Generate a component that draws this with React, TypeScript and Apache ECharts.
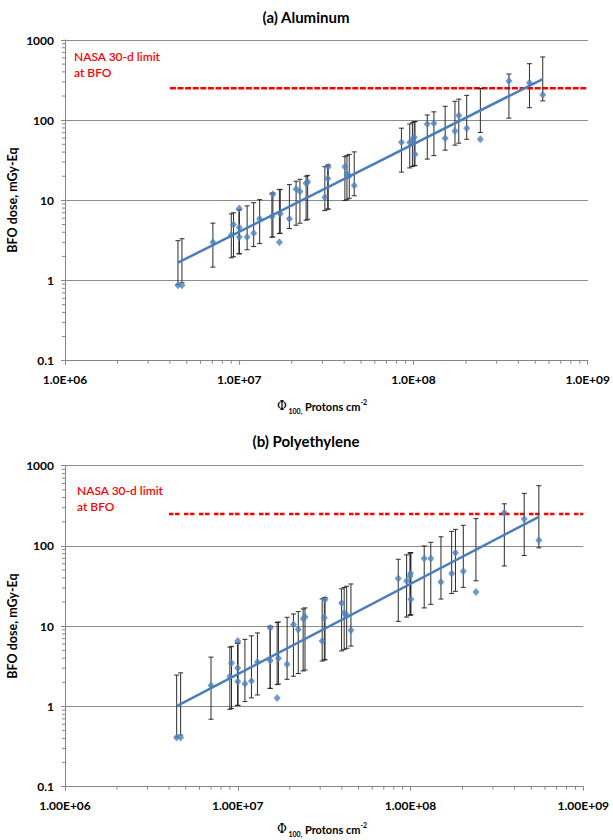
import React, { useEffect, useRef } from "react";
import * as echarts from "echarts";

// ---------- data ----------
const xTickLabelsTop = ["1.0E+06", "1.0E+07", "1.0E+08", "1.0E+09"];
const xTickLabelsBot = ["1.00E+06", "1.00E+07", "1.00E+08", "1.00E+09"];
const yTickLabels = ["0.1", "1", "10", "100", "1000"];

// (a) Aluminum
const alX = [4.45e6, 4.69e6, 7.06e6, 9.0e6, 9.27e6, 1.0e7, 1.0e7, 1.0e7, 1.11e7, 1.21e7, 1.31e7, 1.54e7, 1.56e7, 1.70e7, 1.72e7, 1.94e7, 2.12e7, 2.23e7, 2.42e7, 2.47e7, 3.10e7, 3.22e7, 3.24e7, 4.04e7, 4.15e7, 4.28e7, 4.57e7, 8.53e7, 9.52e7, 9.86e7, 1.01e8, 1.02e8, 1.20e8, 1.31e8, 1.52e8, 1.73e8, 1.82e8, 2.02e8, 2.42e8, 3.53e8, 4.63e8, 5.52e8];
const alY = [0.87, 0.87, 3.0, 3.7, 5.0, 7.9, 4.6, 3.5, 3.5, 3.9, 5.9, 6.3, 11.9, 3.0, 6.8, 5.9, 13.9, 12.9, 16.3, 17.0, 10.9, 18.7, 26.3, 26.3, 21.3, 20.3, 15.3, 53, 52.5, 56.6, 61.2, 37.5, 89.7, 91.4, 59.4, 73.3, 114, 79.2, 57.7, 308, 294, 208];
const alLo = [0.89, 0.94, 1.47, 1.92, 1.98, 2.16, 2.16, 2.16, 2.42, 2.65, 2.89, 3.47, 3.5, 3.85, 3.89, 4.45, 4.9, 5.19, 5.66, 5.8, 7.45, 7.74, 7.81, 9.94, 10.2, 10.6, 11.4, 22.5, 25.4, 26.4, 27.0, 27.3, 32.7, 36.1, 42.3, 48.8, 51.7, 57.8, 70.3, 106, 143, 174];
const alHi = [3.14, 3.32, 5.2, 6.78, 7.0, 7.64, 7.64, 7.64, 8.53, 9.35, 10.2, 12.2, 12.4, 13.6, 13.7, 15.7, 17.3, 18.3, 20.0, 20.5, 26.3, 27.3, 27.6, 35.1, 36.1, 37.4, 40.2, 79.5, 89.6, 93.2, 95.4, 96.3, 116, 127, 149, 172, 183, 204, 248, 376, 506, 614];
const alFitX = [4.45e6, 5.52e8];
const alFitY = [1.67, 326];

// (b) Polyethylene
const peX = [4.43e6, 4.67e6, 7.0e6, 9.0e6, 9.2e6, 1.0e7, 1.0e7, 1.0e7, 1.10e7, 1.20e7, 1.30e7, 1.54e7, 1.54e7, 1.69e7, 1.72e7, 1.93e7, 2.10e7, 2.24e7, 2.39e7, 2.45e7, 3.08e7, 3.17e7, 3.20e7, 3.99e7, 4.13e7, 4.27e7, 4.52e7, 8.49e7, 9.49e7, 9.92e7, 1.0e8, 1.005e8, 1.20e8, 1.31e8, 1.50e8, 1.73e8, 1.82e8, 2.02e8, 2.39e8, 3.49e8, 4.55e8, 5.53e8];
const peY = [0.41, 0.41, 1.83, 2.37, 3.47, 6.53, 3.01, 2.05, 1.92, 2.07, 3.57, 9.5, 3.75, 1.27, 4.0, 3.35, 10.5, 9.07, 12.4, 13.0, 6.53, 12.7, 21.5, 19.5, 14.6, 13.7, 8.89, 39.3, 36.7, 42.0, 45.4, 21.7, 69.8, 69.8, 35.6, 45.4, 82.0, 48.5, 26.7, 259, 216, 118];
const peLo = [0.414, 0.44, 0.693, 0.922, 0.945, 1.03, 1.03, 1.03, 1.15, 1.28, 1.39, 1.68, 1.68, 1.87, 1.9, 2.18, 2.38, 2.57, 2.77, 2.84, 3.68, 3.79, 3.83, 4.92, 5.11, 5.3, 5.65, 11.5, 13.0, 13.7, 13.8, 13.9, 16.9, 18.7, 21.8, 25.6, 27.2, 30.5, 36.8, 56.3, 76.0, 94.8];
const peHi = [2.46, 2.62, 4.12, 5.48, 5.61, 6.14, 6.14, 6.14, 6.86, 7.58, 8.24, 9.97, 9.97, 11.1, 11.3, 12.9, 14.2, 15.2, 16.4, 16.9, 21.9, 22.5, 22.8, 29.2, 30.4, 31.5, 33.6, 68.3, 77.4, 81.3, 82.2, 82.6, 100, 111, 130, 152, 161, 181, 219, 335, 452, 563];
const peFitX = [4.43e6, 5.53e8];
const peFitY = [1.01, 231];

// NASA 30-d limit
const limitX = [4.0e6, 1.0e9];
const limitValue = 250;

const minorMultipliers = [2, 3, 4, 5, 6, 7, 8, 9];
const xDecades = [1e6, 1e7, 1e8];
const yDecades = [0.1, 1, 10, 100];

const FONT = 'Lato, "Open Sans", "DejaVu Sans", sans-serif';
const BLUE = "#4F81BD";
const AXIS_GRAY = "#868686";

export default function App() {
  const ref = useRef<HTMLDivElement>(null);

  useEffect(() => {
    if (!ref.current) return;
    document.body.style.margin = "0";
    const chart = echarts.init(ref.current, null, { renderer: "svg" });

    const minorXVals: number[] = [];
    xDecades.forEach((d) => minorMultipliers.forEach((m) => minorXVals.push(d * m)));
    const minorYVals: number[] = [];
    yDecades.forEach((d) => minorMultipliers.forEach((m) => minorYVals.push(d * m)));

    const xAxisBase = (gridIndex: number, labels: string[]) => ({
      type: "log",
      logBase: 10,
      gridIndex,
      min: 1e6,
      max: 1e9,
      splitNumber: 3,
      axisLine: { show: true, lineStyle: { color: AXIS_GRAY, width: 1 } },
      axisTick: { show: true, length: 4, lineStyle: { color: AXIS_GRAY } },
      splitLine: { show: false },
      axisLabel: {
        formatter: (v: number) => labels[Math.round(Math.log10(v)) - 6] ?? "",
        fontFamily: FONT,
        fontWeight: "bold",
        fontSize: 12,
        color: "#000",
        margin: 13,
      },
    });
    const yAxisBase = (gridIndex: number) => ({
      type: "log",
      logBase: 10,
      gridIndex,
      min: 0.1,
      max: 1000,
      splitNumber: 4,
      axisLine: { show: true, lineStyle: { color: AXIS_GRAY, width: 1 } },
      axisTick: { show: true, length: 4, lineStyle: { color: AXIS_GRAY } },
      splitLine: { show: true, lineStyle: { color: "#8c8c8c", width: 1 } },
      axisLabel: {
        formatter: (v: number) => yTickLabels[Math.round(Math.log10(v)) + 1] ?? "",
        fontFamily: FONT,
        fontWeight: "bold",
        fontSize: 12,
        color: "#000",
        margin: 11,
      },
    });

    const errSeries = (idx: number, xs: number[], lo: number[], hi: number[]) => ({
      type: "custom",
      xAxisIndex: idx,
      yAxisIndex: idx,
      silent: true,
      z: 2,
      encode: { x: 0, y: [1, 2] },
      data: xs.map((x, i) => [x, lo[i], hi[i]]),
      renderItem: (_p: any, api: any) => {
        const x = api.value(0);
        const a = api.coord([x, api.value(2)]);
        const b = api.coord([x, api.value(1)]);
        const w = 2.5;
        const st = { stroke: "#2b2b2b", lineWidth: 1 };
        return {
          type: "group",
          children: [
            { type: "line", shape: { x1: a[0], y1: a[1], x2: b[0], y2: b[1] }, style: st },
            { type: "line", shape: { x1: a[0] - w, y1: a[1], x2: a[0] + w, y2: a[1] }, style: st },
            { type: "line", shape: { x1: b[0] - w, y1: b[1], x2: b[0] + w, y2: b[1] }, style: st },
          ],
        };
      },
    });

    const minorTickSeries = (idx: number) => [
      {
        type: "custom",
        xAxisIndex: idx,
        yAxisIndex: idx,
        silent: true,
        clip: false,
        encode: { x: 0, y: 1 },
        data: minorXVals.map((v) => [v, 0.1]),
        renderItem: (_p: any, api: any) => {
          const p = api.coord([api.value(0), 0.1]);
          return { type: "line", shape: { x1: p[0], y1: p[1], x2: p[0], y2: p[1] + 3 }, style: { stroke: AXIS_GRAY, lineWidth: 1 } };
        },
      },
      {
        type: "custom",
        xAxisIndex: idx,
        yAxisIndex: idx,
        silent: true,
        clip: false,
        encode: { x: 0, y: 1 },
        data: minorYVals.map((v) => [1e6, v]),
        renderItem: (_p: any, api: any) => {
          const p = api.coord([1e6, api.value(1)]);
          return { type: "line", shape: { x1: p[0] - 3, y1: p[1], x2: p[0], y2: p[1] }, style: { stroke: AXIS_GRAY, lineWidth: 1 } };
        },
      },
    ];

    const limitSeries = (idx: number, dash: number[]) => ({
      type: "line",
      xAxisIndex: idx,
      yAxisIndex: idx,
      silent: true,
      symbol: "none",
      z: 1,
      data: limitX.map((x) => [x, limitValue]),
      lineStyle: { color: "#FF0000", width: 2.5, type: dash },
    });

    const scatterSeries = (idx: number, xs: number[], ys: number[]) => ({
      type: "scatter",
      xAxisIndex: idx,
      yAxisIndex: idx,
      silent: true,
      z: 3,
      symbol: "diamond",
      symbolSize: [7, 8],
      itemStyle: { color: BLUE },
      data: xs.map((x, i) => [x, ys[i]]),
    });

    const fitSeries = (idx: number, xs: number[], ys: number[]) => ({
      type: "line",
      xAxisIndex: idx,
      yAxisIndex: idx,
      silent: true,
      symbol: "none",
      z: 4,
      data: xs.map((x, i) => [x, ys[i]]),
      lineStyle: { color: "#4A7EBB", width: 2.5 },
    });

    const xTitle = (y: number) => ({
      type: "text",
      x: 322,
      y,
      style: {
        text: "{phi|Φ}{sub| 100,} Protons cm{sup|-2}",
        fontFamily: FONT,
        fontWeight: "bold",
        fontSize: 11,
        fill: "#000",
        align: "center",
        verticalAlign: "middle",
        rich: {
          phi: { fontFamily: '"DejaVu Serif", serif', fontSize: 12, fontWeight: "normal", fill: "#000", lineHeight: 16 },
          sub: { fontFamily: FONT, fontSize: 7, fontWeight: "bold", fill: "#000", verticalAlign: "bottom", lineHeight: 16, padding: [4, 0, 0, 0] },
          sup: { fontFamily: FONT, fontSize: 7, fontWeight: "bold", fill: "#000", verticalAlign: "top", lineHeight: 16 },
        },
      },
    });

    const yTitle = (y: number) => ({
      type: "text",
      x: 12,
      y,
      rotation: Math.PI / 2,
      style: {
        text: "BFO dose, mGy-Eq",
        fontFamily: FONT,
        fontWeight: "bold",
        fontSize: 12.5,
        fill: "#000",
        align: "center",
        verticalAlign: "middle",
      },
    });

    const title = (text: string, y: number) => ({
      type: "text",
      x: 306,
      y,
      style: { text, fontFamily: FONT, fontWeight: "bold", fontSize: 15, fill: "#000", align: "center", verticalAlign: "middle" },
    });

    const nasa = (x: number, y: number) => ({
      type: "text",
      x,
      y,
      style: {
        text: "NASA 30-d limit\nat BFO",
        fontFamily: FONT,
        fontSize: 12,
        fontWeight: 600,
        lineHeight: 16.5,
        fill: "#FF0000",
        align: "left",
        verticalAlign: "top",
      },
    });

    chart.setOption({
      animation: false,
      backgroundColor: "#ffffff",
      grid: [
        { left: 65, top: 40, width: 524, height: 320.7 },
        { left: 65, top: 465.7, width: 518.3, height: 321 },
      ],
      xAxis: [xAxisBase(0, xTickLabelsTop), xAxisBase(1, xTickLabelsBot)],
      yAxis: [yAxisBase(0), yAxisBase(1)],
      series: [
        ...minorTickSeries(0),
        ...minorTickSeries(1),
        limitSeries(0, [6, 1.6]),
        limitSeries(1, [4.5, 1.5, 4.5, 4.5]),
        errSeries(0, alX, alLo, alHi),
        errSeries(1, peX, peLo, peHi),
        scatterSeries(0, alX, alY),
        scatterSeries(1, peX, peY),
        fitSeries(0, alFitX, alFitY),
        fitSeries(1, peFitX, peFitY),
      ],
      graphic: [
        title("(a) Aluminum", 17),
        title("(b) Polyethylene", 441),
        yTitle(200),
        yTitle(626),
        xTitle(406),
        xTitle(829),
        nasa(74, 48),
        nasa(77, 482),
      ],
    });

    return () => chart.dispose();
  }, []);

  return <div ref={ref} style={{ position: "absolute", left: 0, top: 0, width: 613, height: 840 }} />;
}
